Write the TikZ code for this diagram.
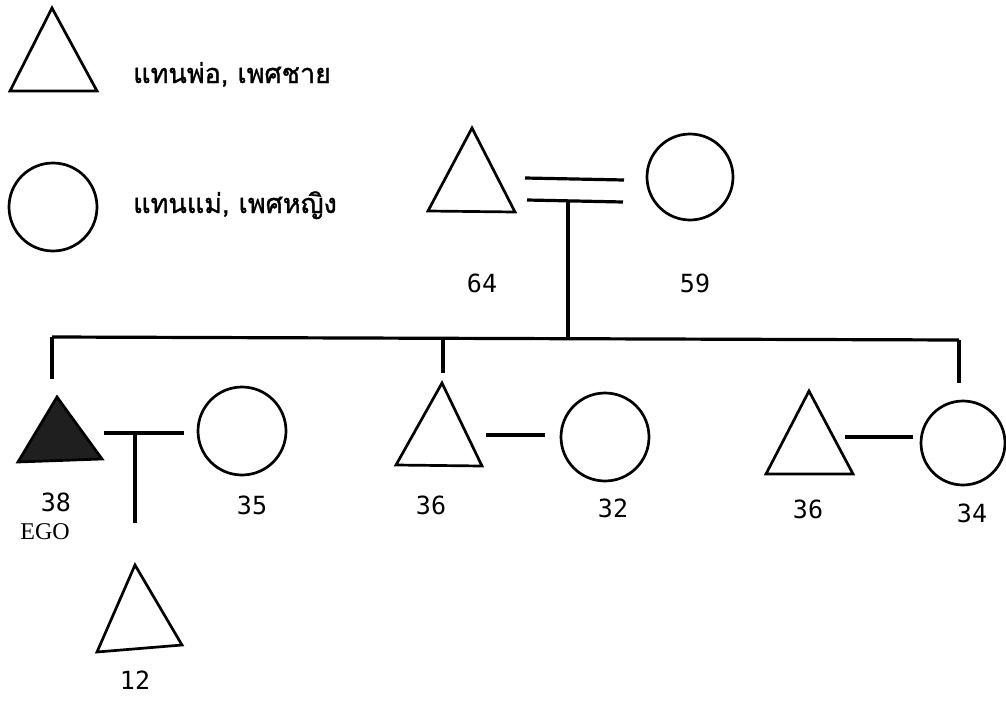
\documentclass[tikz,border=0pt]{standalone}
\usepackage{fontspec}
\newfontfamily\thaifont[Script=Thai,FakeBold=1.2]{Loma}
\newfontfamily\numfont{DejaVu Sans Mono}
\newfontfamily\egoserif{Liberation Serif}
\begin{document}
\begin{tikzpicture}[x=1pt,y=-1pt,
  ln/.style={line width=3.2pt},
  shp/.style={line width=2.7pt},
  circ/.style={shp,draw,circle,inner sep=0pt,minimum size=#1},
  num/.style={font=\fontsize{25}{25}\numfont,inner sep=0pt},
  egofont/.style={font=\fontsize{24}{24}\egoserif,inner sep=0pt},
  thai/.style={font=\fontsize{27}{30}\thaifont,inner sep=0pt,anchor=base west}]
\useasboundingbox (0,0) rectangle (1006,701);

% legend
\draw[shp] (52,8) coordinate (lgA) -- (97,91) -- (10,91) -- cycle;
\node[circ=88] (lgC) at (53,207) {};
\node[thai] (lgT1) at (133,83) {แทนพ่อ, เพศชาย};
\node[thai] (lgT2) at (133,213) {แทนแม่, เพศหญิง};

% parents
\draw[shp] (472,128) -- (515,212) -- (428,211) -- cycle;
\node[circ=86] (mom) at (690,177) {};
\coordinate (d1a) at (525,178); \coordinate (d1b) at (624,180);
\coordinate (d2a) at (527,200); \coordinate (d2b) at (623,202);
\draw[ln] (d1a) -- (d1b);
\draw[ln] (d2a) -- (d2b);
\coordinate (pdrop) at (568,201);
\coordinate (sibL) at (52,337); \coordinate (sibR) at (959,340);
\coordinate (sibM) at (568,338);
\draw[ln] (pdrop) -- (sibM);
\draw[ln] (sibL) -- (sibR);
\node[num] (n64) at (482,283) {64};
\node[num] (n59) at (695,283) {59};

% ego family
\coordinate (dropL) at (52,379);
\draw[ln] (sibL) -- (dropL);
\draw[shp,fill=black!88] (57,397) -- (102,459) -- (18,462) -- cycle;
\node[circ=88] (egow) at (242,431) {};
\coordinate (emA) at (104,433); \coordinate (emB) at (184,433);
\coordinate (emC) at (135,433); \coordinate (emD) at (135,523);
\draw[ln] (emA) -- (emB);
\draw[ln] (emC) -- (emD);
\draw[shp] (135,565) -- (182,645) -- (97,652) -- cycle;
\node[num] (n38) at (56,502) {38};
\node[egofont] (ego) at (45,532) {EGO};
\node[num] (n35) at (252,505) {35};
\node[num] (n12) at (135,680) {12};

% middle sibling
\coordinate (mdT) at (443,338); \coordinate (mdB) at (443,373);
\draw[ln] (mdT) -- (mdB);
\draw[shp] (442,383) -- (482,466) -- (396,465) -- cycle;
\node[circ=88] (midw) at (605,437) {};
\coordinate (mmA) at (486,435); \coordinate (mmB) at (545,435);
\draw[ln] (mmA) -- (mmB);
\node[num] (n36a) at (431,505) {36};
\node[num] (n32) at (613,508) {32};

% right sibling
\coordinate (rdB) at (959,383);
\draw[ln] (sibR) -- (rdB);
\draw[shp] (809,391) -- (853,474) -- (766,474) -- cycle;
\node[circ=84] (sis) at (963,443) {};
\coordinate (rmA) at (845,437); \coordinate (rmB) at (913,437);
\draw[ln] (rmA) -- (rmB);
\node[num] (n36b) at (808,509) {36};
\node[num] (n34) at (972,513) {34};
\end{tikzpicture}
\end{document}
